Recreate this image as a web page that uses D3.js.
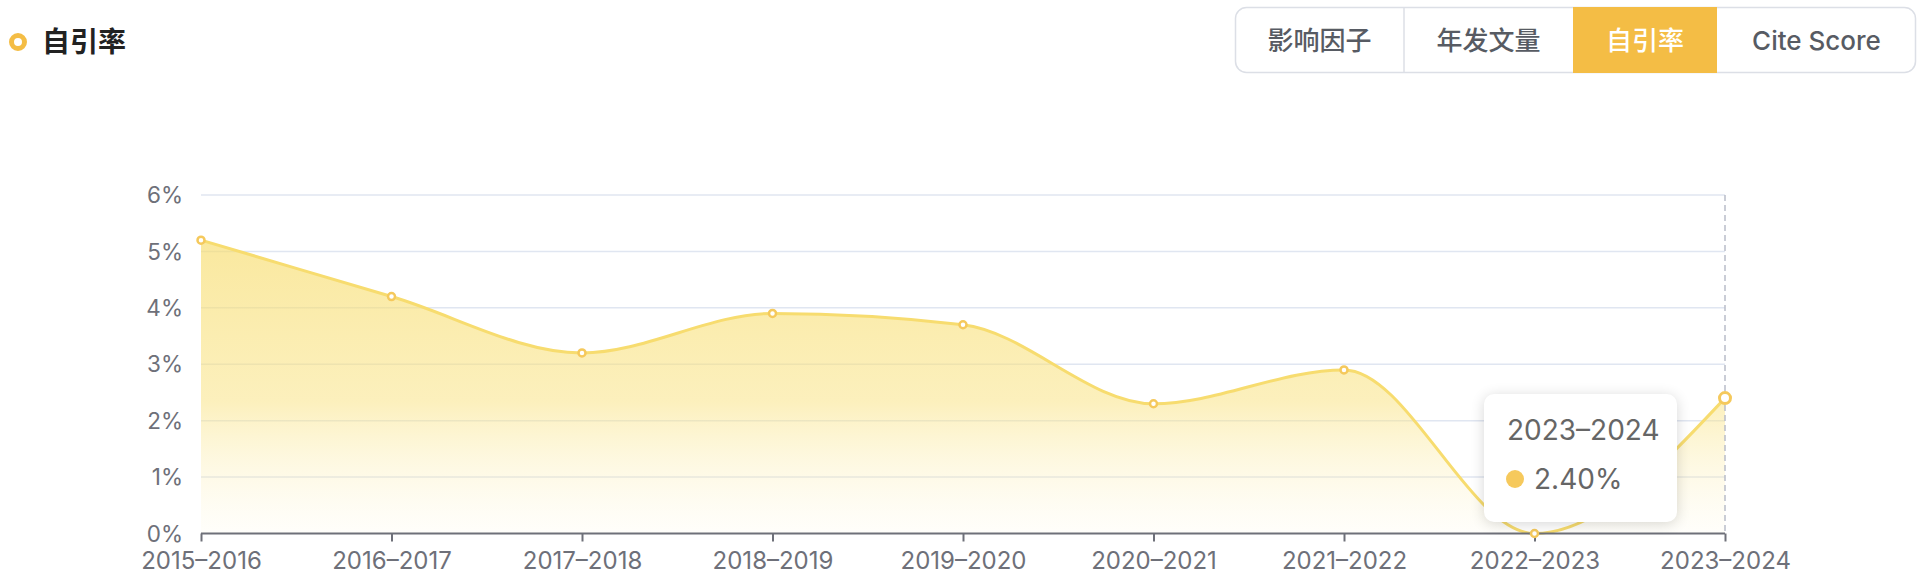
<!DOCTYPE html>
<html><head><meta charset="utf-8">
<script src="https://cdn.jsdelivr.net/npm/d3@7/dist/d3.min.js"></script>
<style>
html,body{margin:0;padding:0;background:#fff;}
body{width:1924px;height:578px;overflow:hidden;position:relative;font-family:Inter,"Noto Sans CJK SC",sans-serif;}
#tip{position:absolute;background:#fff;border-radius:10px;box-shadow:0 2px 14px rgba(0,0,0,0.16);color:#666;}
</style></head>
<body>
<svg id="chart" width="1924" height="578"></svg>
<div id="tip"></div>
<script>
const categories = ["2015–2016","2016–2017","2017–2018","2018–2019","2019–2020","2020–2021","2021–2022","2022–2023","2023–2024"];
const values = [5.2, 4.2, 3.2, 3.9, 3.7, 2.3, 2.9, 0.0, 2.4];
const yTicks = [0,1,2,3,4,5,6];
const tabs = ["影响因子","年发文量","自引率","Cite Score"];
const activeTab = "自引率";
const title = "自引率";
const hoverIndex = 8;

(function(){
const svg = d3.select("#chart");
const pL = 201, pR = 1725, pT = 195, pB = 533.5;
const x = d3.scalePoint().domain(categories).range([pL, pR]);
const y = d3.scaleLinear().domain([0, 6]).range([pB, pT]);

// title
svg.append("circle").attr("cx",18).attr("cy",42).attr("r",6.5).attr("fill","none").attr("stroke","#f4bd45").attr("stroke-width",5);
svg.append("text").attr("x",42).attr("y",52).attr("font-size",28).attr("font-weight",700)
  .attr("font-family","'Noto Sans CJK SC',sans-serif").attr("fill","#222").text(title);

// tabs
const tabW = [169,169,144,199];
const tabG = svg.append("g");
let tx = 1235;
const tabX = tabW.map(w => { const s = tx; tx += w; return s; });
const totalW = d3.sum(tabW);
tabG.append("rect").attr("x",1235.5).attr("y",7.5).attr("width",totalW-1).attr("height",65).attr("rx",11)
  .attr("fill","#fff").attr("stroke","#dcdfe6").attr("stroke-width",1.5);
tabs.forEach((t,i)=>{
  if (t === activeTab) {
    tabG.append("rect").attr("x",tabX[i]).attr("y",7).attr("width",tabW[i]).attr("height",66).attr("fill","#f4bd45");
  } else if (i>0 && tabs[i-1] !== activeTab) {
    tabG.append("line").attr("x1",tabX[i]).attr("x2",tabX[i]).attr("y1",8).attr("y2",72).attr("stroke","#dcdfe6").attr("stroke-width",1.5);
  }
  tabG.append("text").attr("x",tabX[i]+tabW[i]/2).attr("y",41).attr("dy","0.35em").attr("text-anchor","middle")
    .attr("font-size",26).attr("font-weight",500)
    .attr("font-family", /[A-Za-z]/.test(t) ? "Inter,'Noto Sans CJK SC',sans-serif" : "'Noto Sans CJK SC',sans-serif")
    .attr("fill", t===activeTab ? "#fff" : "#575b63").text(t);
});

// grid
svg.append("g").selectAll("line").data(yTicks.filter(d=>d>0)).join("line")
  .attr("x1",pL).attr("x2",pR).attr("y1",d=>y(d)).attr("y2",d=>y(d))
  .attr("stroke","#e0e6f1").attr("stroke-width",1.5);

// y labels
svg.append("g").selectAll("text").data(yTicks).join("text")
  .attr("x",183).attr("y",d=>y(d)).attr("dy","0.36em").attr("text-anchor","end")
  .attr("font-size",22.5).attr("fill","#6e7079").text(d=>d+"%");

// gradient
const defs = svg.append("defs");
const grad = defs.append("linearGradient").attr("id","ag").attr("gradientUnits","userSpaceOnUse")
  .attr("x1",0).attr("x2",0).attr("y1",y(d3.max(values))).attr("y2",pB);
grad.append("stop").attr("offset","0%").attr("stop-color","#f7dc6a").attr("stop-opacity",0.65);
grad.append("stop").attr("offset","55%").attr("stop-color","#f9e27f").attr("stop-opacity",0.52);
grad.append("stop").attr("offset","100%").attr("stop-color","#fdf3c8").attr("stop-opacity",0.08);

const pts = categories.map((c,i)=>[x(c), y(values[i])]);
const area = d3.area().x(d=>d[0]).y0(pB).y1(d=>d[1]).curve(d3.curveMonotoneX);
const line = d3.line().x(d=>d[0]).y(d=>d[1]).curve(d3.curveMonotoneX);
svg.append("path").attr("d",area(pts)).attr("fill","url(#ag)");

// hover dashed line
svg.append("line").attr("x1",x(categories[hoverIndex])).attr("x2",x(categories[hoverIndex]))
  .attr("y1",pT).attr("y2",pB).attr("stroke","#b9bdc9").attr("stroke-width",1.5).attr("stroke-dasharray","6,4");

svg.append("path").attr("d",line(pts)).attr("fill","none").attr("stroke","#f7dc6f").attr("stroke-width",3);

// x axis
const xAxis = d3.axisBottom(x).tickSize(8).tickPadding(10);
const gx = svg.append("g").attr("transform",`translate(0,${pB})`).call(xAxis);
gx.select(".domain").attr("stroke","#6e7079").attr("stroke-width",2).attr("d",`M${pL},0H${pR}`);
gx.selectAll(".tick line").attr("stroke","#6e7079").attr("stroke-width",2);
gx.selectAll(".tick text").attr("font-size",24).attr("fill","#6e7079").attr("font-family","Inter,sans-serif");

// points
svg.append("g").selectAll("circle").data(pts).join("circle")
  .attr("cx",d=>d[0]).attr("cy",d=>d[1]).attr("r",(d,i)=>i===hoverIndex?5.5:3.5)
  .attr("fill","#fff").attr("stroke","#f5c95c").attr("stroke-width",(d,i)=>i===hoverIndex?3:2.5);

// tooltip
const tip = d3.select("#tip").style("left","1484px").style("top","394px").style("width","193px").style("height","128px");
tip.append("div").style("position","absolute").style("left","23px").style("top","22px")
  .style("font-size","28px").style("line-height","28px").text(categories[hoverIndex]);
tip.append("div").style("position","absolute").style("left","22px").style("top","76px")
  .style("width","18px").style("height","18px").style("border-radius","50%").style("background","#f6c95c");
tip.append("div").style("position","absolute").style("left","50px").style("top","70px")
  .style("font-size","28px").style("line-height","30px").text(values[hoverIndex].toFixed(2)+"%");
})();
</script>
</body></html>
